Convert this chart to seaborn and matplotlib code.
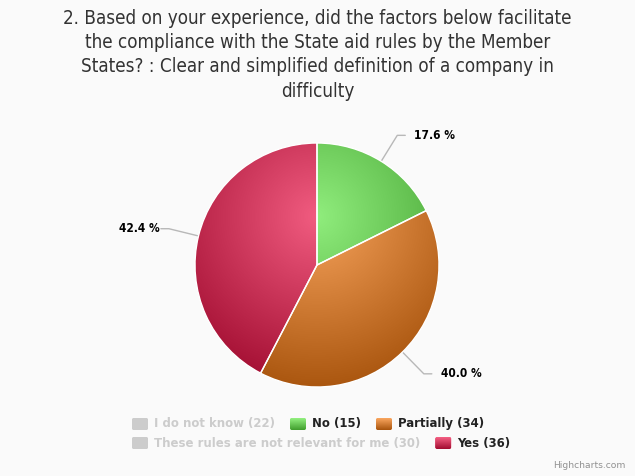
import numpy as np
import matplotlib
matplotlib.use("Agg")
import matplotlib.pyplot as plt
from matplotlib.patches import FancyBboxPatch
import seaborn as sns

# data
title_lines = [
    "2. Based on your experience, did the factors below facilitate",
    "the compliance with the State aid rules by the Member",
    "States? : Clear and simplified definition of a company in",
    "difficulty",
]
categories = ["I do not know", "No", "Partially", "These rules are not relevant for me", "Yes"]
counts = [22, 15, 34, 30, 36]
shown = [False, True, True, False, True]
base_colors = {"No": "#90ed7d", "Partially": "#f7a35c", "Yes": "#f15c80"}

sns.set_style("white")
plt.rcParams["font.family"] = ["DejaVu Sans"]

W, H = 635, 476
CX, CY, R = 317, 265, 122
BG = "#fafafa"


def darker(hexcol, amount=0.3):
    rgb = np.array(matplotlib.colors.to_rgb(hexcol))
    return tuple(np.clip(rgb - amount, 0, 1))


fig = plt.figure(figsize=(W / 100, H / 100), dpi=100, facecolor=BG)

# pie axes: data units = pie radius, centred on the pie
ax = fig.add_axes([0, 0, 1, 1])

pie_labels = [c for c, s in zip(categories, shown) if s]
pie_vals = [v for v, s in zip(counts, shown) if s]
total = sum(pie_vals)

wedges, _ = ax.pie(pie_vals, startangle=90, counterclock=False, radius=1,
                   colors=[base_colors[c] for c in pie_labels],
                   wedgeprops=dict(edgecolor="white", linewidth=1))
ax.set_aspect("auto")
ax.axis("off")

# radial gradient like highcharts: cx .5, cy .3, r .7 of the pie box
gx = np.linspace(-1, 1, 300)
gy = np.linspace(1, -1, 300)
XX, YY = np.meshgrid(gx, gy)
tt = np.clip(np.hypot(XX - 0.0, YY - 0.4) / 1.4, 0, 1)
for w, name in zip(wedges, pie_labels):
    pal = np.array(sns.blend_palette([base_colors[name], darker(base_colors[name])], n_colors=256))
    img = pal[(tt * 255).astype(int)]
    im = ax.imshow(img, extent=[-1, 1, -1, 1], zorder=w.get_zorder() + 0.1,
                   interpolation="bilinear", aspect="auto")
    im.set_clip_path(w)
    w.set_facecolor("none")
    w.set_zorder(w.get_zorder() + 0.2)
ax.set_xlim(-CX / R, (W - CX) / R)
ax.set_ylim((CY - H) / R, CY / R)

# data labels with connectors
for w, v in zip(wedges, pie_vals):
    mid = np.deg2rad((w.theta1 + w.theta2) / 2)
    ex, ey = np.cos(mid), np.sin(mid)
    ox, oy = 1.25 * ex, 1.25 * ey
    side = 1 if ex >= 0 else -1
    hx = ox + side * 8 / R
    ax.plot([ex, ox, hx], [ey, oy, oy], color="#b8b8b8", lw=1, zorder=1)
    gap = 9 if side > 0 else 1
    ax.text(hx + side * gap / R, oy, f"{100 * v / total:.1f} %", ha="left" if side > 0 else "right",
            va="center", fontsize=8.6, fontweight="bold", fontstretch="condensed", color="#000000")

# overlay axes in pixel units for title, legend, credits
ov = fig.add_axes([0, 0, 1, 1], facecolor="none")
ov.set_xlim(0, W)
ov.set_ylim(H, 0)
ov.axis("off")

for i, line in enumerate(title_lines):
    ov.text(W / 2, 18 + 24.5 * i, line, ha="center", va="center", fontsize=13.5,
            fontstretch="condensed", color="#333333")

fig.canvas.draw()
renderer = fig.canvas.get_renderer()
rows = [[0, 1, 2], [3, 4]]
row_y = [424, 443]
for row, y in zip(rows, row_y):
    x = 132
    for idx in row:
        name = categories[idx]
        if shown[idx]:
            c0, c1 = base_colors[name], darker(base_colors[name])
            tcol = "#222222"
        else:
            c0 = c1 = "#cccccc"
            tcol = "#cccccc"
        sym = FancyBboxPatch((x, y - 6), 16, 12, boxstyle="round,pad=0,rounding_size=2",
                             facecolor=c0, edgecolor="none")
        ov.add_patch(sym)
        grad = np.array(sns.blend_palette([c0, c1], n_colors=12))[:, None, :]
        gim = ov.imshow(grad, extent=[x, x + 16, y + 6, y - 6], aspect="auto", zorder=3)
        gim.set_clip_path(sym)
        t = ov.text(x + 22, y, f"{name} ({counts[idx]})", ha="left", va="center",
                    fontsize=9.4, fontweight="bold", fontstretch="condensed", color=tcol)
        bb = t.get_window_extent(renderer)
        x = x + 22 + bb.width + 15

ov.set_xlim(0, W)
ov.set_ylim(H, 0)
ov.text(625, 466, "Highcharts.com", ha="right", va="center", fontsize=6.6, color="#909090")

fig.savefig("out.png", dpi=100, facecolor=BG)
